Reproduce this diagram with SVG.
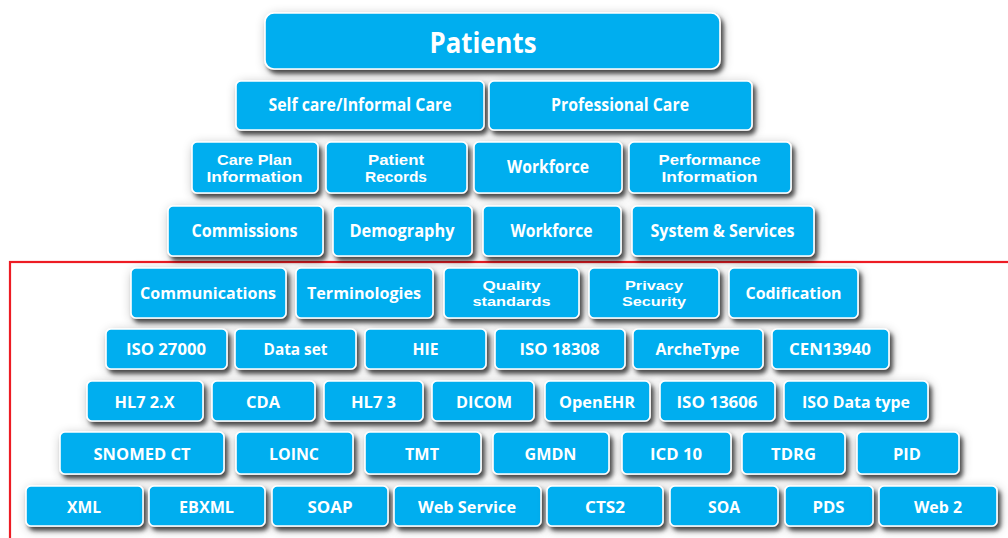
<svg xmlns="http://www.w3.org/2000/svg" width="1008" height="538" viewBox="0 0 1008 538">
<defs>
<filter id="sh" x="-20%" y="-30%" width="140%" height="170%">
<feGaussianBlur in="SourceAlpha" stdDeviation="6" result="b1"/>
<feOffset in="b1" dx="2" dy="3" result="o1"/>
<feComponentTransfer in="o1" result="h1"><feFuncA type="linear" slope="0.28"/></feComponentTransfer>
<feGaussianBlur in="SourceAlpha" stdDeviation="2" result="b2"/>
<feOffset in="b2" dx="3" dy="4" result="o2"/>
<feComponentTransfer in="o2" result="h2"><feFuncA type="linear" slope="0.65"/></feComponentTransfer>
<feMerge><feMergeNode in="h1"/><feMergeNode in="h2"/><feMergeNode in="SourceGraphic"/></feMerge>
</filter>
</defs>
<style>
.b{fill:#00aeef;stroke:#ffffff;stroke-width:1.6;filter:url(#sh)}
.t{fill:#ffffff;font-family:"Open Sans","Liberation Sans",sans-serif;font-weight:bold;font-size:16.5px;text-anchor:middle}
.m{font-size:17px}
.d{font-family:"Liberation Sans",Arial,sans-serif;font-size:14.8px}
.s{font-family:"Liberation Sans",Arial,sans-serif;font-size:13.5px}
.p{font-size:28px}
</style>
<rect width="1008" height="538" fill="#ffffff"/>
<g id="connectors"></g>
<rect id="frame" x="10" y="262" width="1010" height="290" fill="none" stroke="#ed1c24" stroke-width="2.2"/>

<g id="patients"><rect class="b" x="265" y="13" width="455" height="56" rx="9"/><text class="t p" x="483" y="53" textLength="107" lengthAdjust="spacingAndGlyphs">Patients</text></g>

<g id="selfcare"><rect class="b" x="236" y="81" width="248" height="49" rx="5"/><text class="t m" x="360" y="111" textLength="183" lengthAdjust="spacingAndGlyphs">Self care/Informal Care</text></g>
<g id="professional"><rect class="b" x="489" y="81" width="263" height="49" rx="5"/><text class="t m" x="620" y="111" textLength="138" lengthAdjust="spacingAndGlyphs">Professional Care</text></g>

<g id="careplan"><rect class="b" x="192" y="142" width="126" height="51" rx="5"/><text class="t d"><tspan x="254.5" y="165.3" textLength="75" lengthAdjust="spacingAndGlyphs">Care Plan</tspan><tspan x="254.5" y="181.9" textLength="96" lengthAdjust="spacingAndGlyphs">Information</tspan></text></g>
<g id="patientrecords"><rect class="b" x="326" y="142" width="141" height="51" rx="5"/><text class="t d"><tspan x="396" y="165.3" textLength="56" lengthAdjust="spacingAndGlyphs">Patient</tspan><tspan x="396" y="181.9" textLength="62" lengthAdjust="spacingAndGlyphs">Records</tspan></text></g>
<g id="workforce1"><rect class="b" x="474" y="142" width="148" height="51" rx="5"/><text class="t m" x="548" y="173" textLength="82" lengthAdjust="spacingAndGlyphs">Workforce</text></g>
<g id="performance"><rect class="b" x="629" y="142" width="162" height="51" rx="5"/><text class="t d"><tspan x="709.5" y="165.3" textLength="102" lengthAdjust="spacingAndGlyphs">Performance</tspan><tspan x="709.5" y="181.9" textLength="96" lengthAdjust="spacingAndGlyphs">Information</tspan></text></g>

<g id="commissions"><rect class="b" x="168" y="206" width="155" height="50" rx="5"/><text class="t m" x="244.5" y="236.5" textLength="106" lengthAdjust="spacingAndGlyphs">Commissions</text></g>
<g id="demography"><rect class="b" x="333" y="206" width="139" height="50" rx="5"/><text class="t m" x="402" y="236.5" textLength="105" lengthAdjust="spacingAndGlyphs">Demography</text></g>
<g id="workforce2"><rect class="b" x="483" y="206" width="138" height="50" rx="5"/><text class="t m" x="551.5" y="236.5" textLength="82" lengthAdjust="spacingAndGlyphs">Workforce</text></g>
<g id="systemservices"><rect class="b" x="632" y="206" width="182" height="50" rx="5"/><text class="t m" x="722.5" y="236.5" textLength="144" lengthAdjust="spacingAndGlyphs">System &amp; Services</text></g>

<g id="communications"><rect class="b" x="131" y="268" width="155" height="50" rx="5"/><text class="t" x="208" y="298.5" textLength="136" lengthAdjust="spacingAndGlyphs">Communications</text></g>
<g id="terminologies"><rect class="b" x="296" y="268" width="137" height="50" rx="5"/><text class="t" x="364" y="298.5" textLength="114" lengthAdjust="spacingAndGlyphs">Terminologies</text></g>
<g id="quality"><rect class="b" x="444" y="268" width="135" height="50" rx="5"/><text class="t s"><tspan x="511.5" y="290.4" textLength="58" lengthAdjust="spacingAndGlyphs">Quality</tspan><tspan x="511.5" y="305.7" textLength="78" lengthAdjust="spacingAndGlyphs">standards</tspan></text></g>
<g id="privacy"><rect class="b" x="589" y="268" width="130" height="50" rx="5"/><text class="t s"><tspan x="654" y="290.4" textLength="58" lengthAdjust="spacingAndGlyphs">Privacy</tspan><tspan x="654" y="305.7" textLength="64" lengthAdjust="spacingAndGlyphs">Security</tspan></text></g>
<g id="codification"><rect class="b" x="729" y="268" width="129" height="50" rx="5"/><text class="t" x="793.5" y="298.5" textLength="96" lengthAdjust="spacingAndGlyphs">Codification</text></g>

<g id="iso27000"><rect class="b" x="106" y="329" width="121" height="40" rx="5"/><text class="t" x="166" y="355" textLength="80" lengthAdjust="spacingAndGlyphs">ISO 27000</text></g>
<g id="dataset"><rect class="b" x="235" y="329" width="121" height="40" rx="5"/><text class="t" x="295.5" y="355" textLength="64" lengthAdjust="spacingAndGlyphs">Data set</text></g>
<g id="hie"><rect class="b" x="365" y="329" width="121" height="40" rx="5"/><text class="t" x="425.5" y="355" textLength="26" lengthAdjust="spacingAndGlyphs">HIE</text></g>
<g id="iso18308"><rect class="b" x="495" y="329" width="130" height="40" rx="5"/><text class="t" x="559.5" y="355" textLength="80" lengthAdjust="spacingAndGlyphs">ISO 18308</text></g>
<g id="archetype"><rect class="b" x="633" y="329" width="130" height="40" rx="5"/><text class="t" x="697.5" y="355" textLength="84" lengthAdjust="spacingAndGlyphs">ArcheType</text></g>
<g id="cen13940"><rect class="b" x="772" y="329" width="117" height="40" rx="5"/><text class="t" x="830" y="355" textLength="82" lengthAdjust="spacingAndGlyphs">CEN13940</text></g>

<g id="hl72x"><rect class="b" x="87" y="381" width="116" height="40" rx="5"/><text class="t" x="144.5" y="407.5" textLength="60" lengthAdjust="spacingAndGlyphs">HL7 2.X</text></g>
<g id="cda"><rect class="b" x="212" y="381" width="103" height="40" rx="5"/><text class="t" x="263" y="407.5" textLength="34" lengthAdjust="spacingAndGlyphs">CDA</text></g>
<g id="hl73"><rect class="b" x="324" y="381" width="99" height="40" rx="5"/><text class="t" x="373.5" y="407.5" textLength="45" lengthAdjust="spacingAndGlyphs">HL7 3</text></g>
<g id="dicom"><rect class="b" x="432" y="381" width="102" height="40" rx="5"/><text class="t" x="484" y="407.5" textLength="56" lengthAdjust="spacingAndGlyphs">DICOM</text></g>
<g id="openehr"><rect class="b" x="545" y="381" width="105" height="40" rx="5"/><text class="t" x="597" y="407.5" textLength="76" lengthAdjust="spacingAndGlyphs">OpenEHR</text></g>
<g id="iso13606"><rect class="b" x="660" y="381" width="115" height="40" rx="5"/><text class="t" x="717" y="407.5" textLength="81" lengthAdjust="spacingAndGlyphs">ISO 13606</text></g>
<g id="isodatatype"><rect class="b" x="784" y="381" width="144" height="40" rx="5"/><text class="t" x="856" y="407.5" textLength="108" lengthAdjust="spacingAndGlyphs">ISO Data type</text></g>

<g id="snomed"><rect class="b" x="60" y="432" width="164" height="42" rx="5"/><text class="t" x="142" y="459.5" textLength="97" lengthAdjust="spacingAndGlyphs">SNOMED CT</text></g>
<g id="loinc"><rect class="b" x="236" y="432" width="117" height="42" rx="5"/><text class="t" x="294" y="459.5" textLength="50" lengthAdjust="spacingAndGlyphs">LOINC</text></g>
<g id="tmt"><rect class="b" x="365" y="432" width="116" height="42" rx="5"/><text class="t" x="422" y="459.5" textLength="34" lengthAdjust="spacingAndGlyphs">TMT</text></g>
<g id="gmdn"><rect class="b" x="493" y="432" width="116" height="42" rx="5"/><text class="t" x="550.5" y="459.5" textLength="52" lengthAdjust="spacingAndGlyphs">GMDN</text></g>
<g id="icd10"><rect class="b" x="622" y="432" width="109" height="42" rx="5"/><text class="t" x="676" y="459.5" textLength="52" lengthAdjust="spacingAndGlyphs">ICD 10</text></g>
<g id="tdrg"><rect class="b" x="742" y="432" width="103" height="42" rx="5"/><text class="t" x="793.5" y="459.5" textLength="45" lengthAdjust="spacingAndGlyphs">TDRG</text></g>
<g id="pid"><rect class="b" x="857" y="432" width="102" height="42" rx="5"/><text class="t" x="907" y="459.5" textLength="28" lengthAdjust="spacingAndGlyphs">PID</text></g>

<g id="xml"><rect class="b" x="26" y="486" width="117" height="40" rx="5"/><text class="t" x="84" y="512.5" textLength="34" lengthAdjust="spacingAndGlyphs">XML</text></g>
<g id="ebxml"><rect class="b" x="149" y="486" width="116" height="40" rx="5"/><text class="t" x="206.5" y="512.5" textLength="55" lengthAdjust="spacingAndGlyphs">EBXML</text></g>
<g id="soap"><rect class="b" x="272" y="486" width="116" height="40" rx="5"/><text class="t" x="330" y="512.5" textLength="45" lengthAdjust="spacingAndGlyphs">SOAP</text></g>
<g id="webservice"><rect class="b" x="394" y="486" width="147" height="40" rx="5"/><text class="t" x="467" y="512.5" textLength="98" lengthAdjust="spacingAndGlyphs">Web Service</text></g>
<g id="cts2"><rect class="b" x="547" y="486" width="116" height="40" rx="5"/><text class="t" x="605" y="512.5" textLength="40" lengthAdjust="spacingAndGlyphs">CTS2</text></g>
<g id="soa"><rect class="b" x="670" y="486" width="108" height="40" rx="5"/><text class="t" x="724" y="512.5" textLength="32" lengthAdjust="spacingAndGlyphs">SOA</text></g>
<g id="pds"><rect class="b" x="785" y="486" width="88" height="40" rx="5"/><text class="t" x="828.5" y="512.5" textLength="32" lengthAdjust="spacingAndGlyphs">PDS</text></g>
<g id="web2"><rect class="b" x="879" y="486" width="118" height="40" rx="5"/><text class="t" x="938" y="512.5" textLength="48" lengthAdjust="spacingAndGlyphs">Web 2</text></g>
</svg>
